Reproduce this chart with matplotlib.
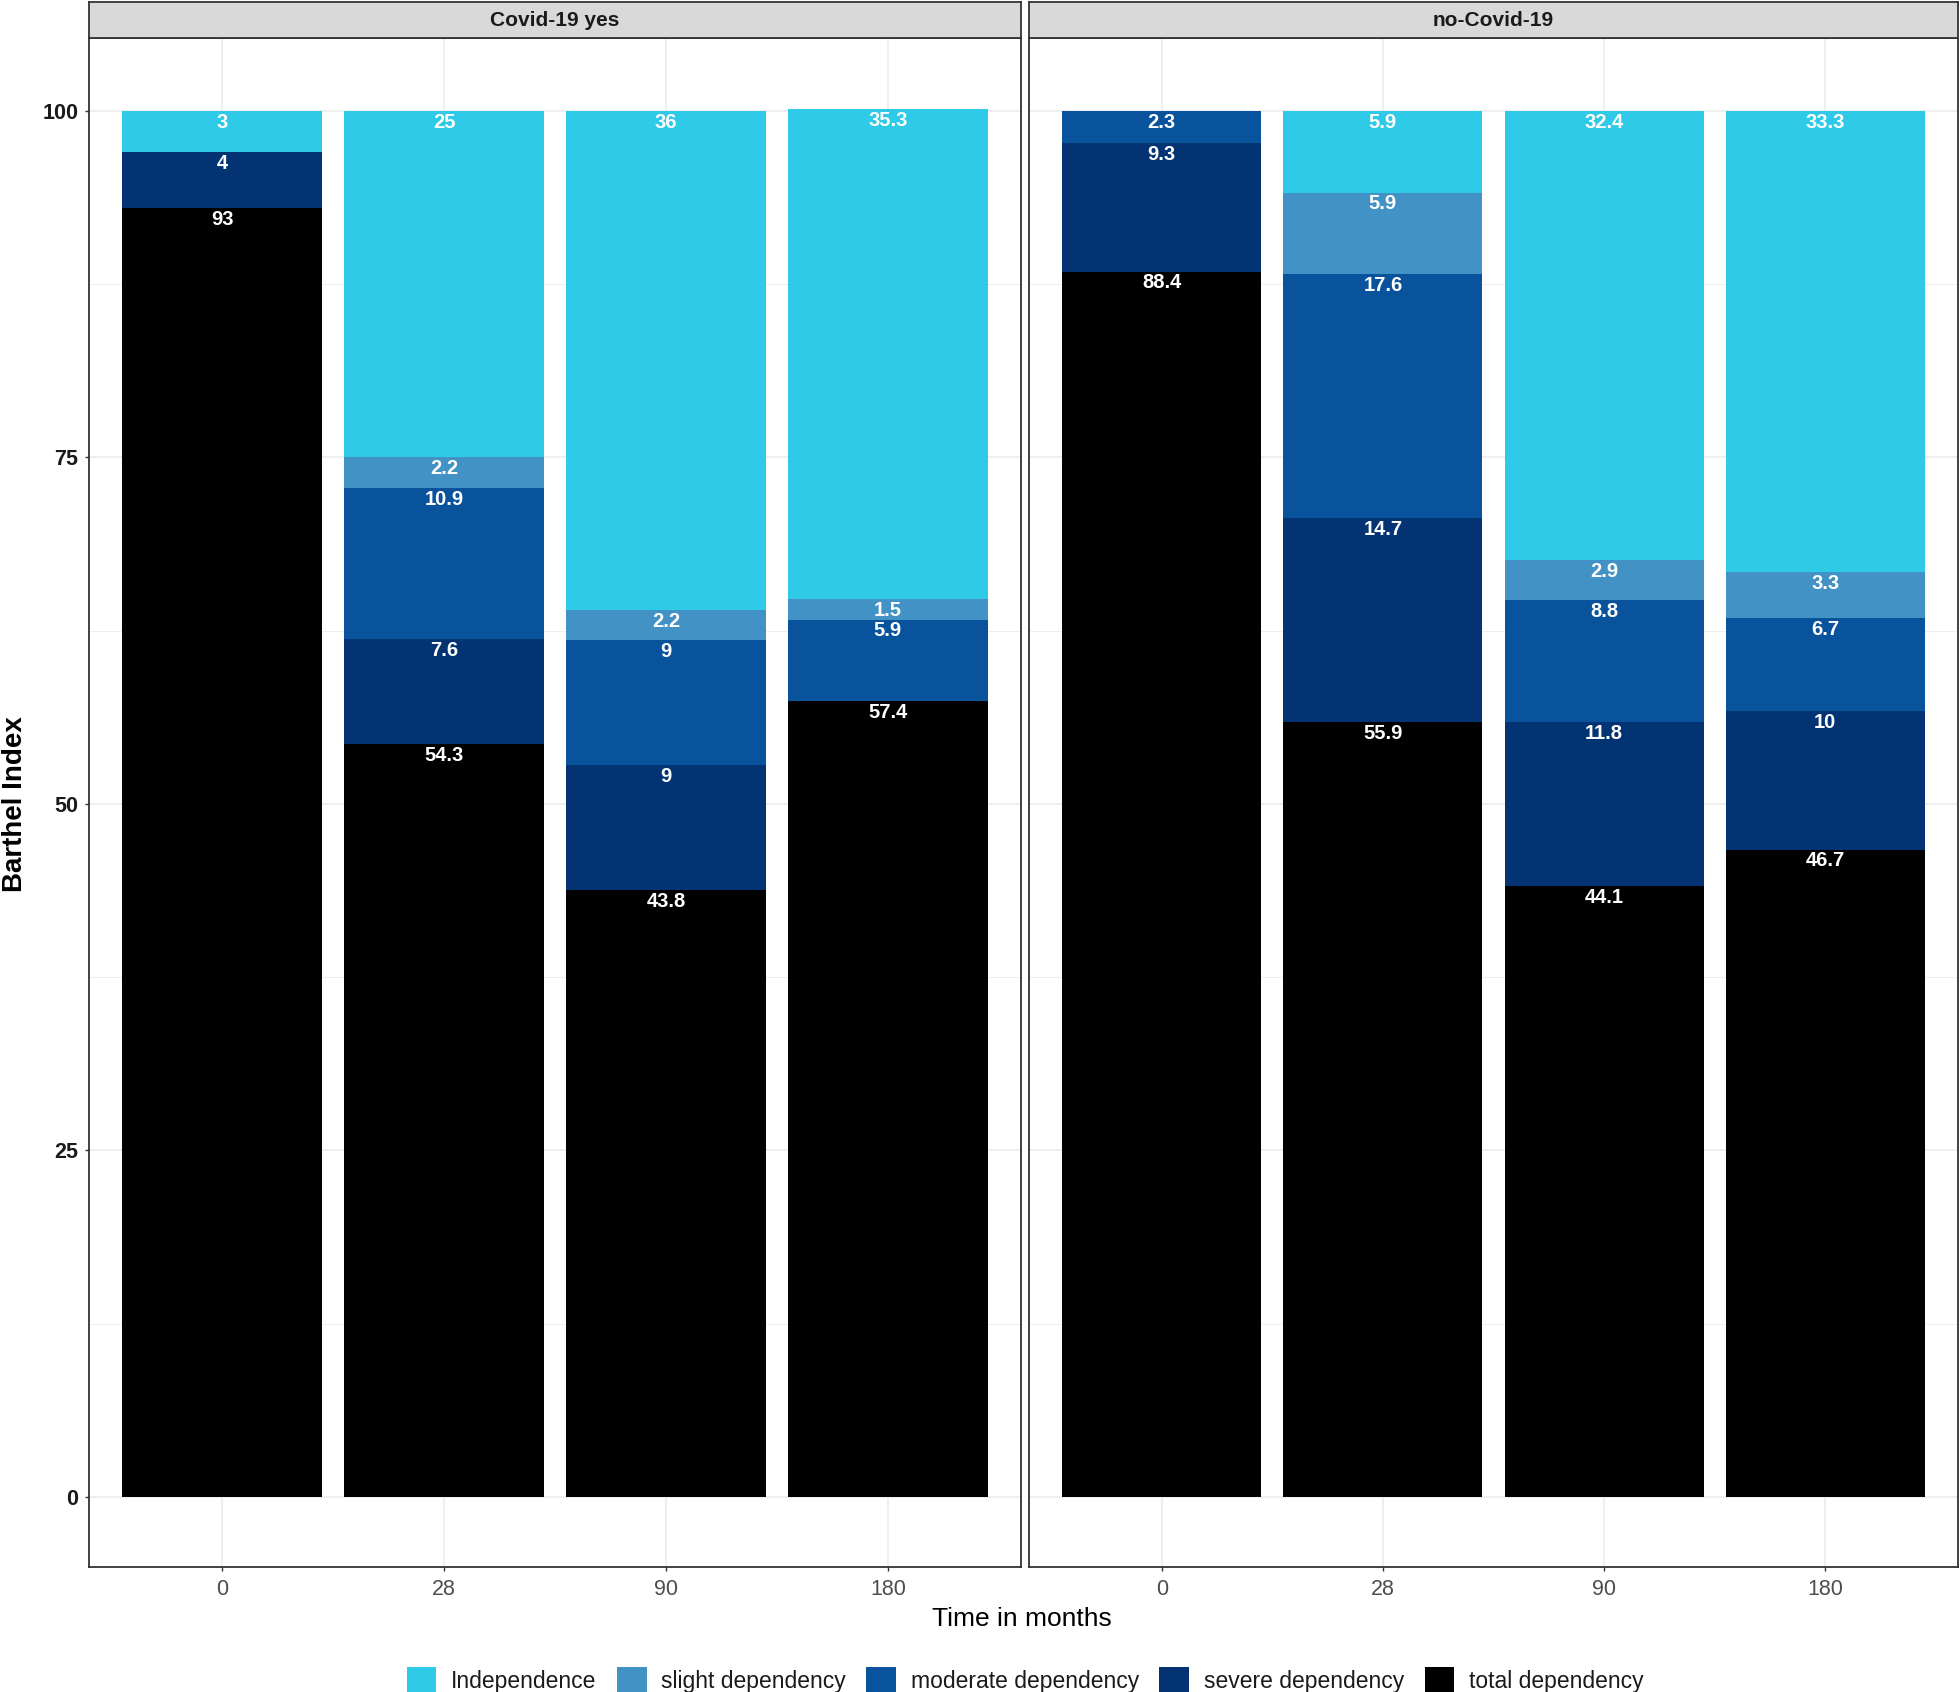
import matplotlib
matplotlib.use("Agg")
import matplotlib.pyplot as plt
from matplotlib.patches import Patch
import numpy as np

# ---- data ----
panels = ["Covid-19 yes", "no-Covid-19"]
times = ["0", "28", "90", "180"]
categories = ["total dependency", "severe dependency", "moderate dependency",
              "slight dependency", "Independence"]  # bottom -> top
colors = {"Independence": "#2ECAE8", "slight dependency": "#4392C6",
          "moderate dependency": "#09539D", "severe dependency": "#033373",
          "total dependency": "#000000"}

covid_total = [93, 54.3, 43.8, 57.4]
covid_severe = [4, 7.6, 9, 0]
covid_moderate = [0, 10.9, 9, 5.9]
covid_slight = [0, 2.2, 2.2, 1.5]
covid_indep = [3, 25, 36, 35.3]

nocovid_total = [88.4, 55.9, 44.1, 46.7]
nocovid_severe = [9.3, 14.7, 11.8, 10]
nocovid_moderate = [2.3, 17.6, 8.8, 6.7]
nocovid_slight = [0, 5.9, 2.9, 3.3]
nocovid_indep = [0, 5.9, 32.4, 33.3]

data = {
    "Covid-19 yes": [covid_total, covid_severe, covid_moderate, covid_slight, covid_indep],
    "no-Covid-19": [nocovid_total, nocovid_severe, nocovid_moderate, nocovid_slight, nocovid_indep],
}

plt.rcParams["font.family"] = ["Liberation Sans", "DejaVu Sans"]

W, H = 1960, 1692
fig = plt.figure(figsize=(W / 100, H / 100), dpi=100)

panel_x = [(89, 1021), (1029, 1958)]
top_px, bot_px = 38, 1567
strip_top = 2
border_col = "#333333"

for i, (pname, (x0, x1)) in enumerate(zip(panels, panel_x)):
    ax = fig.add_axes([x0 / W, (H - bot_px) / H, (x1 - x0) / W, (bot_px - top_px) / H])
    xs = np.arange(len(times))
    bottom = np.zeros(len(times))
    for cat, vals in zip(categories, data[pname]):
        vals = np.array(vals, dtype=float)
        ax.bar(xs, vals, bottom=bottom, width=0.9, color=colors[cat], linewidth=0, zorder=2)
        tops = bottom + vals
        for x, v, t in zip(xs, vals, tops):
            if v > 0:
                ax.text(x, t - 0.82, f"{v:g}", ha="center", va="center", color="white",
                        fontsize=14.5, fontweight="bold", zorder=3)
        bottom = tops
    ax.set_xlim(-0.6, 3.6)
    ax.set_ylim(-5.05, 105.25)
    ax.set_xticks(xs)
    ax.set_xticklabels(times, fontsize=15.5, color="#4D4D4D")
    ax.set_yticks([0, 25, 50, 75, 100])
    ax.set_yticks([12.5, 37.5, 62.5, 87.5], minor=True)
    ax.tick_params(axis="x", which="minor", length=0)
    ax.tick_params(axis="both", which="major", length=2.75, width=1, color="#333333")
    ax.tick_params(axis="x", which="major", pad=6)
    ax.tick_params(axis="y", which="major", pad=5)
    ax.tick_params(axis="y", which="minor", length=0)
    if i == 0:
        ax.set_yticklabels(["0", "25", "50", "75", "100"], fontsize=15.5,
                           fontweight="bold", color="#1A1A1A")
    else:
        ax.tick_params(axis="y", which="both", left=False, labelleft=False)
    ax.grid(True, which="major", color="#EBEBEB", linewidth=1.1, zorder=0)
    ax.grid(True, which="minor", axis="y", color="#EBEBEB", linewidth=0.6, zorder=0)
    ax.set_axisbelow(True)
    for sp in ax.spines.values():
        sp.set_color(border_col)
        sp.set_linewidth(1.3)
    # strip
    sax = fig.add_axes([x0 / W, (H - top_px) / H, (x1 - x0) / W, (top_px - strip_top) / H])
    sax.set_facecolor("#D9D9D9")
    sax.set_xticks([]); sax.set_yticks([])
    for sp in sax.spines.values():
        sp.set_color(border_col)
        sp.set_linewidth(1.3)
    sax.text(0.5, 0.5, pname, ha="center", va="center", fontsize=15,
             fontweight="bold", color="#1A1A1A", transform=sax.transAxes)

fig.text(15 / W, 1 - ((110 + 1499) / 2) / H, "Barthel Index", rotation=90,
         ha="center", va="center", fontsize=20, fontweight="bold")
fig.text(1022 / W, 1 - 1619 / H, "Time in months", ha="center", va="center", fontsize=19)

handles = [Patch(facecolor=colors[c], edgecolor="none") for c in categories[::-1]]
leg = fig.legend(handles, categories[::-1], loc="center", ncol=5,
                 bbox_to_anchor=(1025 / W, 1 - 1680 / H), frameon=False,
                 fontsize=16.5, handlelength=1.3, handleheight=1.3,
                 handletextpad=0.63, columnspacing=0.9, borderpad=0, borderaxespad=0)
for t in leg.get_texts():
    t.set_color("#1A1A1A")

fig.savefig("out.png", dpi=100)
